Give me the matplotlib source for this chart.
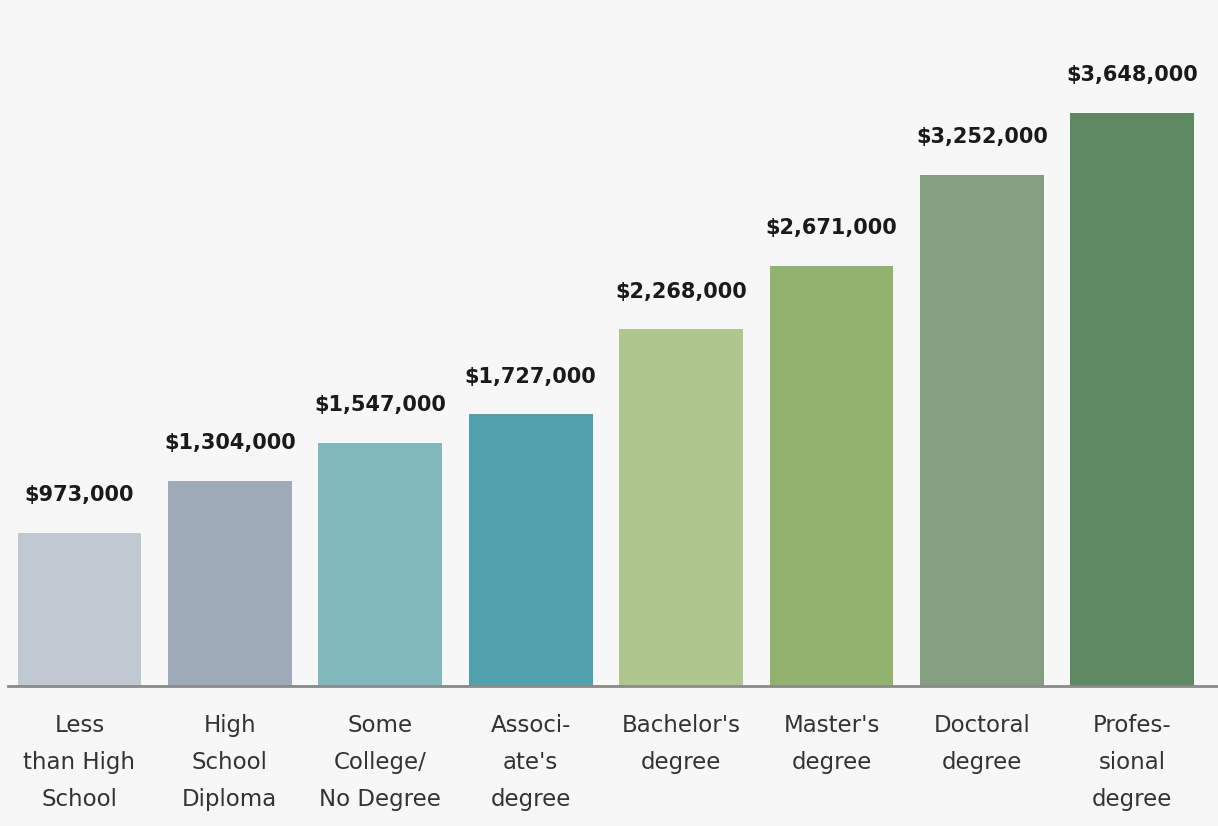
import matplotlib
matplotlib.use("Agg")
import matplotlib.pyplot as plt

# Lifetime earnings by educational attainment
categories = [
    "Less\nthan High\nSchool",
    "High\nSchool\nDiploma",
    "Some\nCollege/\nNo Degree",
    "Associ-\nate's\ndegree",
    "Bachelor's\ndegree",
    "Master's\ndegree",
    "Doctoral\ndegree",
    "Profes-\nsional\ndegree",
]
earnings = [973000, 1304000, 1547000, 1727000, 2268000, 2671000, 3252000, 3648000]
value_labels = ["$973,000", "$1,304,000", "$1,547,000", "$1,727,000",
                "$2,268,000", "$2,671,000", "$3,252,000", "$3,648,000"]
bar_colors = ["#c0c9d2", "#9eaab7", "#80b8bc", "#50a1ac",
              "#afc68f", "#92b36d", "#839f7f", "#5f8963"]

bg = "#f7f7f7"
fig = plt.figure(figsize=(12.18, 8.26), dpi=100, facecolor=bg)
ax = fig.add_axes([8 / 1218, 140 / 826, 1210 / 1218, 676 / 826], facecolor=bg)

x = list(range(len(categories)))
ax.bar(x, earnings, width=0.823, color=bar_colors, zorder=2)

ax.set_xlim(-0.475, 7.57)
ax.set_ylim(0, 4.30e6)

for xi, val, lab in zip(x, earnings, value_labels):
    ax.annotate(lab, (xi, val), xytext=(0, 23), textcoords="offset points",
                ha="center", va="baseline", fontsize=15, fontweight="bold",
                color="#1a1a1a", family="DejaVu Sans")

ax.set_xticks(x)
ax.set_xticklabels(categories, fontsize=16.5, color="#333333",
                   family="DejaVu Sans", linespacing=1.78)
ax.tick_params(axis="x", length=0, pad=20)
ax.set_yticks([])

for side in ("top", "right", "left"):
    ax.spines[side].set_visible(False)
ax.spines["bottom"].set_color("#8a8a8a")
ax.spines["bottom"].set_linewidth(2)
ax.spines["bottom"].set_zorder(3)

fig.savefig("out.png", dpi=100, facecolor=bg)
